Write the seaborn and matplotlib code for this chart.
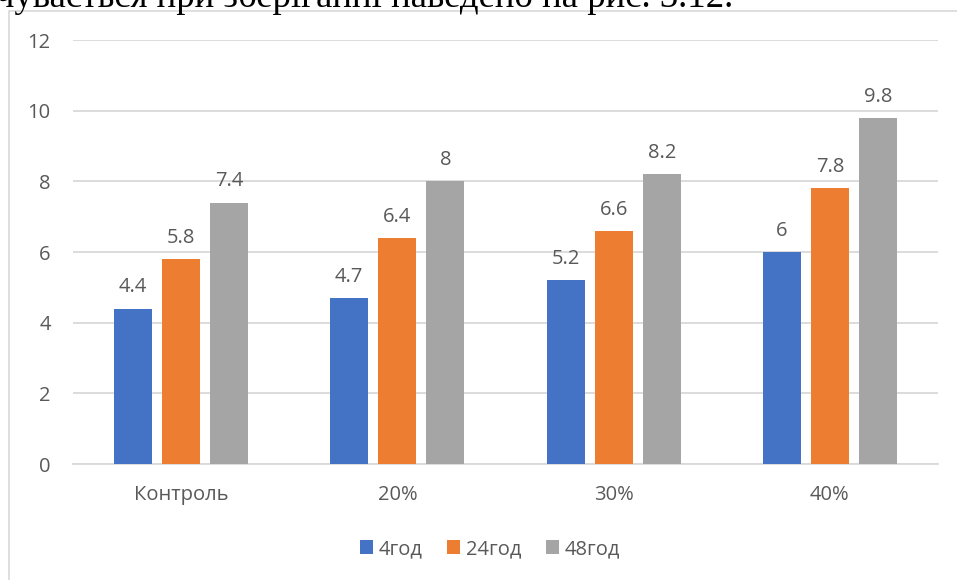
import matplotlib
matplotlib.use("Agg")
import matplotlib.pyplot as plt
import seaborn as sns
import pandas as pd
from matplotlib.patches import Rectangle

# Data
categories = ["Контроль", "20%", "30%", "40%"]
series_names = ["4год", "24год", "48год"]
values_4 = [4.4, 4.7, 5.2, 6.0]
values_24 = [5.8, 6.4, 6.6, 7.8]
values_48 = [7.4, 8.0, 8.2, 9.8]
y_ticks = [0, 2, 4, 6, 8, 10, 12]

colors = ["#4472C4", "#ED7D31", "#A5A5A5"]
text_color = "#595959"
grid_color = "#D9D9D9"

rows = []
for name, vals in zip(series_names, [values_4, values_24, values_48]):
    for cat, v in zip(categories, vals):
        rows.append({"cat": cat, "series": name, "value": v})
df = pd.DataFrame(rows)

sns.set_theme(style="white")
plt.rcParams["font.family"] = ["Open Sans", "DejaVu Sans"]

fig = plt.figure(figsize=(9.57, 5.8), dpi=100)
fig.patch.set_facecolor("white")

# Outer chart frame
frame = Rectangle((9 / 957, -0.1), 1.2, 1 - 11 / 580 + 0.1, transform=fig.transFigure,
                  fill=False, edgecolor=grid_color, linewidth=1.2, zorder=0)
fig.patches.append(frame)

# Caption line from the surrounding text
fig.text(-4 / 957, 1 - 7 / 580, "чувається при зберіганні наведено на рис. 3.12.",
         fontsize=26.5, family=["Liberation Serif", "DejaVu Serif"], color="black",
         ha="left", va="baseline")

ax = fig.add_axes([73 / 957, 1 - 464 / 580, (938 - 73) / 957, (464 - 40) / 580])

sns.barplot(data=df, x="cat", y="value", hue="series", order=categories,
            hue_order=series_names, palette=colors, width=0.667, gap=0.21,
            saturation=1, ax=ax, legend=True, zorder=3, linewidth=0,
            edgecolor="none")

fs = 14.5
ax.set_ylim(0, 12)
ax.set_xlim(-0.5, 3.5)
ax.set_yticks(y_ticks)
ax.set_yticklabels([str(t) for t in y_ticks])
ax.set_xlabel("")
ax.set_ylabel("")
ax.yaxis.grid(True, color=grid_color, linewidth=1.3, zorder=0)
ax.set_axisbelow(True)
for side in ["top", "right", "left"]:
    ax.spines[side].set_visible(False)
ax.spines["bottom"].set_color(grid_color)
ax.spines["bottom"].set_linewidth(1.3)
ax.tick_params(axis="both", length=0, labelsize=fs, colors=text_color)
ax.tick_params(axis="y", pad=16)
ax.tick_params(axis="x", pad=15)

for container in ax.containers:
    labels = [f"{v:g}" for v in container.datavalues]
    ax.bar_label(container, labels=labels, padding=8, fontsize=fs, color=text_color)

handles, labels = ax.get_legend_handles_labels()
ax.legend(handles, labels, loc="center", bbox_to_anchor=(490 / 957, 1 - 549 / 580),
          bbox_transform=fig.transFigure, ncol=3, frameon=False, fontsize=fs,
          labelcolor=text_color, handlelength=0.65, handleheight=0.65,
          handletextpad=0.3, columnspacing=1.2)

fig.savefig("out.png", dpi=100, facecolor="white")
